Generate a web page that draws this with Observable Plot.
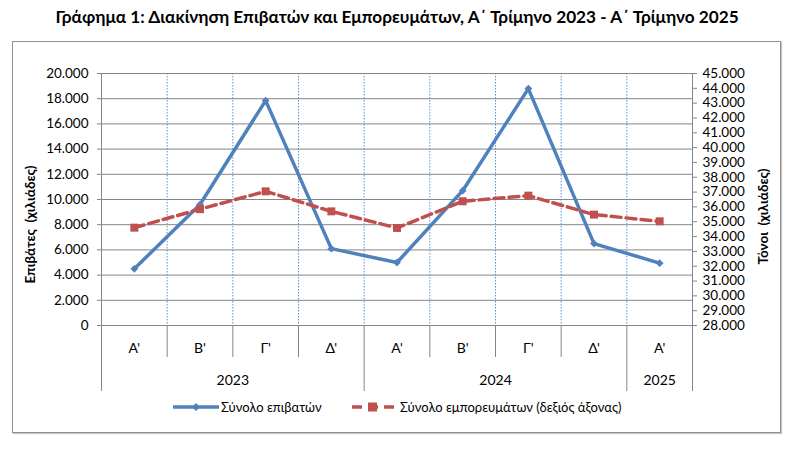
<!DOCTYPE html>
<html><head><meta charset="utf-8">
<script src="https://cdn.jsdelivr.net/npm/d3@7"></script>
<script src="https://cdn.jsdelivr.net/npm/@observablehq/plot@0.6"></script>
<style>
body{margin:0;background:#fff;font-family:Lato,"Open Sans",sans-serif;color:#000;}
#wrap{position:relative;width:794px;height:449px;overflow:hidden;}
#title{position:absolute;top:6px;left:0;width:794px;text-align:center;font-weight:bold;font-size:17.2px;line-height:22px;}
#box{position:absolute;left:12px;top:41px;width:767px;height:390px;border:1px solid #8f8f8f;box-shadow:1px 1px 1px #c8c8c8;}
#chart{position:absolute;left:0;top:41px;}
#legend{position:absolute;top:397px;left:0;width:794px;height:20px;font-size:13px;}
.li{position:absolute;top:0;display:flex;align-items:center;height:20px;white-space:nowrap;}
</style></head>
<body>
<div id="wrap">
  <div id="title">Γράφημα 1: Διακίνηση Επιβατών και Εμπορευμάτων, Α΄ Τρίμηνο 2023 - Α΄ Τρίμηνο 2025</div>
  <div id="box"></div>
  <div id="chart"></div>
  <div id="legend"></div>
</div>
<script>
// ---- data ----
const quarters = ["Α'", "Β'", "Γ'", "Δ'", "Α'", "Β'", "Γ'", "Δ'", "Α'"];
const years = ["2023", "2023", "2023", "2023", "2024", "2024", "2024", "2024", "2025"];
const passengers = [4500, 9600, 17850, 6100, 5000, 10700, 18800, 6500, 4950];      // χιλιάδες επιβάτες (left axis)
const freight = [34600, 35850, 37050, 35700, 34580, 36380, 36760, 35480, 35030];  // χιλιάδες τόνοι (right axis)
const leftTicks = [0, 2000, 4000, 6000, 8000, 10000, 12000, 14000, 16000, 18000, 20000];
const rightTicks = [28000, 29000, 30000, 31000, 32000, 33000, 34000, 35000, 36000, 37000, 38000, 39000, 40000, 41000, 42000, 43000, 44000, 45000];
const seriesNames = ["Σύνολο επιβατών", "Σύνολο εμπορευμάτων (δεξιός άξονας)"];
const leftTitle = "Επιβάτες  (χιλιάδες)";
const rightTitle = "Τόνοι  (χιλιάδες)";

const blue = "#4F81BD", red = "#C0504D", grid = "#868686";
const locale = d3.formatLocale({decimal: ",", thousands: ".", grouping: [3], currency: ["", "€"]});
const fmt = locale.format(",.0f");

const lMin = leftTicks[0], lMax = leftTicks[leftTicks.length - 1];
const rMin = rightTicks[0], rMax = rightTicks[rightTicks.length - 1];
const toLeft = v => lMin + (v - rMin) / (rMax - rMin) * (lMax - lMin);

const n = quarters.length;
const rows = quarters.map((q, i) => ({i, x: i + 0.5, q, year: years[i], p: passengers[i], f: freight[i], fl: toLeft(freight[i])}));
const groups = d3.groups(rows, d => d.year).map(([year, rs]) => ({year, start: rs[0].i, end: rs[rs.length - 1].i + 1, x: (rs[0].i + rs[rs.length - 1].i + 1) / 2}));
const yearBounds = Array.from(new Set(groups.flatMap(g => [g.start, g.end])));
const allBounds = d3.range(0, n + 1);
const innerBounds = allBounds.filter(b => b > 0 && b < n);
const quarterBounds = allBounds.filter(b => !yearBounds.includes(b));

const chart = Plot.plot({
  width: 794, height: 408,
  marginLeft: 101, marginRight: 102, marginTop: 32, marginBottom: 124,
  x: {domain: [0, n], axis: null},
  y: {domain: [lMin, lMax], axis: null},
  style: {fontFamily: "Lato, 'Open Sans', sans-serif", fontSize: "13px", color: "#000", background: "transparent"},
  marks: [
    Plot.ruleY(leftTicks, {stroke: grid, strokeWidth: 1, insetLeft: -4}),
    Plot.ruleX(innerBounds, {stroke: "#5b8fd6", strokeWidth: 1, strokeDasharray: "1.5,1.5"}),
    Plot.ruleX([0, n], {stroke: grid, strokeWidth: 1}),
    Plot.ruleX(quarterBounds, {x: d => d, y1: lMin, y2: lMin, insetBottom: -32, stroke: grid}),
    Plot.ruleX(yearBounds, {x: d => d, y1: lMin, y2: lMin, insetBottom: -66, stroke: grid}),
    Plot.ruleY(rightTicks, {y: toLeft, x1: n, x2: n, insetRight: -5, stroke: grid}),
    Plot.text(leftTicks, {y: d => d, frameAnchor: "left", text: d => fmt(d), textAnchor: "end", dx: -13, fontSize: 13.5}),
    Plot.text(rightTicks, {y: toLeft, frameAnchor: "right", text: d => fmt(d), textAnchor: "start", dx: 10, fontSize: 13.5}),
    Plot.text(rows, {x: "x", text: "q", frameAnchor: "bottom", dy: 23, lineAnchor: "middle", fontSize: 14}),
    Plot.text(groups, {x: "x", text: "year", frameAnchor: "bottom", dy: 55, lineAnchor: "middle", fontSize: 14}),
    Plot.text([leftTitle], {frameAnchor: "left", textAnchor: "middle", rotate: -90, dx: -71, dy: 25, fontWeight: "bold", fontSize: 13.5}),
    Plot.text([rightTitle], {frameAnchor: "right", textAnchor: "middle", rotate: -90, dx: 71, dy: 17, fontWeight: "bold", fontSize: 13.5}),
    Plot.line(rows, {x: "x", y: "p", stroke: blue, strokeWidth: 3.5}),
    Plot.dot(rows, {x: "x", y: "p", symbol: "diamond2", fill: blue, r: 3.5}),
    Plot.line(rows, {x: "x", y: "fl", stroke: red, strokeWidth: 3.5, strokeDasharray: "10,5"}),
    Plot.dot(rows, {x: "x", y: "fl", symbol: "square", fill: red, r: 4.5})
  ]
});
document.getElementById("chart").appendChild(chart);

// legend
const legend = document.getElementById("legend");
legend.innerHTML =
  `<div class="li" style="left:173px"><svg width="46" height="12"><line x1="0" x2="46" y1="6" y2="6" stroke="${blue}" stroke-width="3.5"/><path d="M23,2L27,6L23,10L19,6Z" fill="${blue}"/></svg><span style="margin-left:2px">${seriesNames[0]}</span></div>` +
  `<div class="li" style="left:352px"><svg width="42" height="12"><line x1="0" x2="42" y1="6" y2="6" stroke="${red}" stroke-width="3.5" stroke-dasharray="10,6"/><rect x="16" y="1.5" width="9" height="9" fill="${red}"/></svg><span style="margin-left:6px">${seriesNames[1]}</span></div>`;
</script>
</body></html>
